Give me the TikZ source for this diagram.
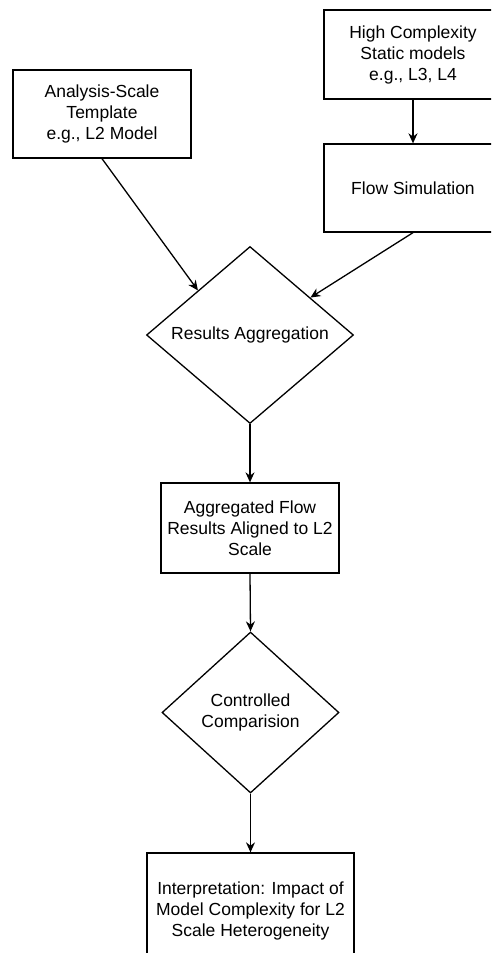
\documentclass[tikz,border=0pt]{standalone}
\usepackage{fontspec}
\setmainfont{Liberation Sans}
\usetikzlibrary{shapes.geometric,arrows.meta,calc}

\begin{document}
\begin{tikzpicture}[x=1pt,y=-1pt,line width=1.3pt]
        \tikzset{every node/.style={font=\fontsize{17.5}{21}\selectfont},
            box/.style={draw,rectangle,align=center,inner sep=0pt,
                minimum width=178pt,minimum height=88pt},
            choice/.style={draw,diamond,align=center,inner sep=0pt},
            flow/.style={draw,-{Stealth[length=10pt,width=9pt]}}}
        \useasboundingbox (0,0) rectangle (491,953);
        \clip (0,0) rectangle (491,953);
        % inputs
        \node[box] (tmpl) at (102,114) {Analysis-Scale\\Template\\e.g., L2 Model};
        \node[box,minimum height=89pt] (hicx) at (413,54.5) {High Complexity\\Static models\\e.g., L3, L4};
        \node[box] (flowsim) at (413,188) {Flow Simulation};
        % aggregation and comparison
        \node[choice,minimum width=207pt,minimum height=177pt] (aggr) at (250,335) {Results Aggregation};
        \node[box,minimum height=90pt] (aggres) at (250,528) {Aggregated Flow\\Results Aligned to L2\\Scale};
        \node[choice,minimum width=177pt,minimum height=161pt] (compare) at (250.5,712.5) {Controlled\\Comparision};
        \node[box,minimum width=207pt,minimum height=116pt] (interp) at (250.5,911) {Interpretation: Impact of\\Model Complexity for L2\\Scale Heterogeneity};
        % connectors
        \draw[flow] (hicx.south) -- (flowsim.north);
        \draw[flow] (tmpl.south) -- (aggr.north west);
        \draw[flow] (flowsim.south) -- ($(aggr.north)!0.58!(aggr.east)$);
        \draw[flow] (aggr.south) -- (aggres.north);
        \draw[flow] (aggres.south) -- (compare.north);
        \draw[flow] (compare.south) -- (interp.north);
    \end{tikzpicture}
\end{document}
